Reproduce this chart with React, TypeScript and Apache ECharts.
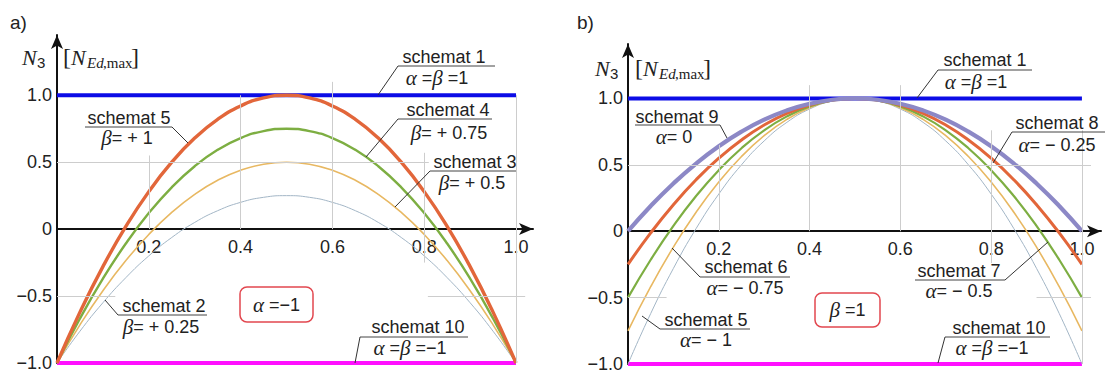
import React, { useEffect, useRef } from "react";
import * as echarts from "echarts";

// ---------- data ----------
const sValues = [0, 0.05, 0.1, 0.15, 0.2, 0.25, 0.3, 0.35, 0.4, 0.45, 0.5, 0.55, 0.6, 0.65, 0.7, 0.75, 0.8, 0.85, 0.9, 0.95, 1];

// panel a) alpha = -1
const schemat5a = [-1, -0.62, -0.28, 0.02, 0.28, 0.5, 0.68, 0.82, 0.92, 0.98, 1.0, 0.98, 0.92, 0.82, 0.68, 0.5, 0.28, 0.02, -0.28, -0.62, -1];
const schemat4a = [-1, -0.6675, -0.37, -0.1075, 0.12, 0.3125, 0.47, 0.5925, 0.68, 0.7325, 0.75, 0.7325, 0.68, 0.5925, 0.47, 0.3125, 0.12, -0.1075, -0.37, -0.6675, -1];
const schemat3a = [-1, -0.715, -0.46, -0.235, -0.04, 0.125, 0.26, 0.365, 0.44, 0.485, 0.5, 0.485, 0.44, 0.365, 0.26, 0.125, -0.04, -0.235, -0.46, -0.715, -1];
const schemat2a = [-1, -0.7625, -0.55, -0.3625, -0.2, -0.0625, 0.05, 0.1375, 0.2, 0.2375, 0.25, 0.2375, 0.2, 0.1375, 0.05, -0.0625, -0.2, -0.3625, -0.55, -0.7625, -1];

// panel b) beta = 1
const schemat9b = [0, 0.19, 0.36, 0.51, 0.64, 0.75, 0.84, 0.91, 0.96, 0.99, 1.0, 0.99, 0.96, 0.91, 0.84, 0.75, 0.64, 0.51, 0.36, 0.19, 0];
const schemat8b = [-0.25, -0.0125, 0.2, 0.3875, 0.55, 0.6875, 0.8, 0.8875, 0.95, 0.9875, 1.0, 0.9875, 0.95, 0.8875, 0.8, 0.6875, 0.55, 0.3875, 0.2, -0.0125, -0.25];
const schemat7b = [-0.5, -0.215, 0.04, 0.265, 0.46, 0.625, 0.76, 0.865, 0.94, 0.985, 1.0, 0.985, 0.94, 0.865, 0.76, 0.625, 0.46, 0.265, 0.04, -0.215, -0.5];
const schemat6b = [-0.75, -0.4175, -0.12, 0.1425, 0.37, 0.5625, 0.72, 0.8425, 0.93, 0.9825, 1.0, 0.9825, 0.93, 0.8425, 0.72, 0.5625, 0.37, 0.1425, -0.12, -0.4175, -0.75];
const schemat5b = [-1, -0.62, -0.28, 0.02, 0.28, 0.5, 0.68, 0.82, 0.92, 0.98, 1.0, 0.98, 0.92, 0.82, 0.68, 0.5, 0.28, 0.02, -0.28, -0.62, -1];

const constEnds = [0, 1];
const schemat1 = [1, 1];
const schemat10 = [-1, -1];

// ---------- layout / styles ----------
const SANS = "Liberation Sans";
const SERIF = "Liberation Serif";
const TXT = "#222";

const YMIN = -1;
const XMAX_A = 1.037;
const YMAX_A = 1.45;
const XMAX_B = 1.042;
const YMAX_B = 1.41;
const GRID_A = { left: 57, top: 35, width: 476, height: 328 };
const GRID_B = { left: 628, top: 44, width: 473, height: 320 };

const gridSegA = [
  [0.2, 0, 0.2, 0.55],
  [0.4, 0, 0.4, 1.0],
  [0.6, 0, 0.6, 1.1],
  [0.8, -0.25, 0.8, 0.57],
  [1.0, -1, 1.0, 1.0],
  [0, 0.5, 0.81, 0.5],
  [0, -0.5, 0.127, -0.5],
  [0.808, -0.5, 1.02, -0.5],
];
const gridSegB = [
  [0.2, 0, 0.2, 0.65],
  [0.4, 0, 0.4, 1.1],
  [0.6, 0, 0.6, 1.1],
  [0.8, -0.24, 0.8, 0.76],
  [1.0, -1, 1.0, 0.76],
  [0, 0.5, 1.02, 0.5],
  [0, -0.5, 0.085, -0.5],
  [0.9, -0.5, 1.02, -0.5],
];

const xFmt = (v: number) => (v < 0.1 || v > 1.001 ? "" : v.toFixed(1));
const yFmt = (v: number) => {
  if (v > 1.001) return "";
  if (Math.abs(v) < 1e-9) return "0";
  return (v < 0 ? "\u2212" : "") + Math.abs(v).toFixed(1);
};

function mkX(gridIndex: number, max: number, gridH: number, ymax: number) {
  // put the axis on the y = 0 level of its grid
  const zeroOffset = -(gridH * (0 - YMIN)) / (ymax - YMIN);
  return {
    type: "value",
    gridIndex,
    min: 0,
    max,
    interval: 0.2,
    position: "bottom",
    offset: zeroOffset,
    axisLine: {
      show: true,
      onZero: false,
      symbol: ["none", "arrow"],
      symbolSize: [9, 14],
      lineStyle: { color: "#111", width: 2 },
    },
    axisTick: { show: false },
    splitLine: { show: false },
    axisLabel: { margin: 9, color: TXT, fontSize: 18, fontFamily: SANS, formatter: xFmt },
  };
}
function mkY(gridIndex: number, max: number) {
  return {
    type: "value",
    gridIndex,
    min: YMIN,
    max,
    interval: 0.5,
    axisLine: {
      show: true,
      onZero: false,
      symbol: ["none", "arrow"],
      symbolSize: [9, 14],
      lineStyle: { color: "#111", width: 2 },
    },
    axisTick: { show: false },
    splitLine: { show: false },
    axisLabel: { margin: 5, color: TXT, fontSize: 18, fontFamily: SANS, formatter: yFmt },
  };
}

function pairs(xs: number[], ys: number[]) {
  return xs.map((x, i) => [x, ys[i]]);
}

function curve(idx: number, ys: number[], color: string, width: number, z = 3, xs = sValues, smooth: boolean = true) {
  return {
    type: "line",
    xAxisIndex: idx,
    yAxisIndex: idx,
    data: pairs(xs, ys),
    smooth,
    symbol: "none",
    silent: true,
    z,
    lineStyle: { color, width },
  };
}

function gridSeries(idx: number, segs: number[][]) {
  return {
    type: "line",
    xAxisIndex: idx,
    yAxisIndex: idx,
    data: [[0, 0]],
    symbol: "none",
    silent: true,
    z: 1,
    lineStyle: { width: 0 },
    markLine: {
      silent: true,
      animation: false,
      symbol: ["none", "none"],
      label: { show: false },
      emphasis: { disabled: true },
      lineStyle: { color: "#cdcdcd", width: 1, type: "solid" },
      data: segs.map((s) => [{ coord: [s[0], s[1]] }, { coord: [s[2], s[3]] }]),
    },
  };
}

const richG = {
  g: { fontFamily: SERIF, fontStyle: "italic", fontSize: 21, fill: TXT },
};

function txt(x: number, y: number, text: string, extra: any = {}) {
  return {
    type: "text",
    x,
    y,
    z: 10,
    silent: true,
    style: {
      text,
      fill: TXT,
      fontFamily: SANS,
      fontSize: 18,
      align: "center",
      verticalAlign: "middle",
      rich: richG,
      ...extra,
    },
  };
}
function seg(x1: number, y1: number, x2: number, y2: number, color = "#333", w = 1) {
  return {
    type: "line",
    z: 10,
    silent: true,
    shape: { x1, y1, x2, y2 },
    style: { stroke: color, lineWidth: w },
  };
}

function ann(
  c1: [number, number],
  c2: [number, number],
  t1: string,
  t2: string,
  uy: number,
  ux1: number,
  ux2: number,
  leader: [number, number, number, number]
) {
  return [
    txt(c1[0], c1[1], t1),
    seg(ux1, uy, ux2, uy, "#444", 1),
    txt(c2[0], c2[1], t2),
    seg(leader[0], leader[1], leader[2], leader[3], "#333", 1),
  ];
}

function yName(xN: number, xB: number, yc: number) {
  return [
    txt(xN, yc, "N", { align: "left", fontFamily: SERIF, fontStyle: "italic", fontSize: 22 }),
    txt(xN + 15, yc + 5, "3", { align: "left", fontSize: 15 }),
    txt(xB, yc, "[", { align: "left", fontFamily: SERIF, fontSize: 24 }),
    txt(xB + 8, yc, "N", { align: "left", fontFamily: SERIF, fontStyle: "italic", fontSize: 22 }),
    txt(xB + 24, yc + 6, "Ed", { align: "left", fontFamily: SERIF, fontStyle: "italic", fontSize: 15 }),
    txt(xB + 40, yc + 6, ",max", { align: "left", fontFamily: SERIF, fontSize: 15 }),
    txt(xB + 68, yc, "]", { align: "left", fontFamily: SERIF, fontSize: 24 }),
  ];
}

function box(x: number, y: number, w: number, h: number, t: string) {
  return [
    {
      type: "rect",
      z: 9,
      silent: true,
      shape: { x, y, width: w, height: h, r: 7 },
      style: { fill: "#fff", stroke: "#e2474f", lineWidth: 1.5 },
    },
    txt(x + w / 2, y + h / 2, t),
  ];
}

const RED = "#e2663a";
const GREEN = "#7dae42";
const YELLOW = "#e8b862";
const GRAY = "#a3b6c6";
const PURPLE = "#8c88c6";
const BLUE = "#0c0ce6";
const MAGENTA = "#ff10ff";

const option: any = {
  animation: false,
  backgroundColor: "#fff",
  grid: [
    { ...GRID_A, outerBoundsMode: "none", containLabel: false },
    { ...GRID_B, outerBoundsMode: "none", containLabel: false },
  ],
  xAxis: [mkX(0, XMAX_A, GRID_A.height, YMAX_A), mkX(1, XMAX_B, GRID_B.height, YMAX_B)],
  yAxis: [mkY(0, YMAX_A), mkY(1, YMAX_B)],
  series: [
    gridSeries(0, gridSegA),
    gridSeries(1, gridSegB),
    curve(0, schemat1, BLUE, 4, 2, constEnds, false),
    curve(0, schemat10, MAGENTA, 4, 2, constEnds, false),
    curve(0, schemat2a, GRAY, 1),
    curve(0, schemat3a, YELLOW, 1.6),
    curve(0, schemat4a, GREEN, 2.4),
    curve(0, schemat5a, RED, 3.4),
    curve(1, schemat1, BLUE, 4, 2, constEnds, false),
    curve(1, schemat10, MAGENTA, 4, 2, constEnds, false),
    curve(1, schemat5b, GRAY, 1),
    curve(1, schemat6b, YELLOW, 1.6),
    curve(1, schemat7b, GREEN, 2.2),
    curve(1, schemat8b, RED, 3),
    curve(1, schemat9b, PURPLE, 4.2),
  ],
  graphic: [
    txt(10, 22, "a)", { align: "left", fontSize: 19 }),
    txt(577, 22, "b)", { align: "left", fontSize: 19 }),
    ...yName(22, 63, 57),
    ...yName(595, 635, 68),
    // panel a annotations
    ...ann([444, 57], [437, 78], "schemat 1", "{g|\u03b1} ={g|\u03b2} =1", 66, 398, 495, [398, 66, 378, 95]),
    ...ann([448, 110], [449, 133], "schemat 4", "{g|\u03b2}= + 0.75", 119, 398, 492, [398, 119, 366, 157]),
    ...ann([475, 162], [472, 183], "schemat 3", "{g|\u03b2}= + 0.5", 171, 430, 516, [430, 171, 395, 207]),
    ...ann([129, 118], [127, 138], "schemat 5", "{g|\u03b2}= + 1", 127, 85, 172, [172, 127, 188, 143]),
    ...ann([164, 306], [161, 327], "schemat 2", "{g|\u03b2}= + 0.25", 315, 118, 207, [118, 315, 105, 300]),
    ...ann([418, 327], [410, 348], "schemat 10", "{g|\u03b1} ={g|\u03b2} =\u22121", 337, 360, 468, [360, 337, 355, 363]),
    ...box(240, 287, 73, 35, "{g|\u03b1} =\u22121"),
    // panel b annotations
    ...ann([985, 60], [976, 82], "schemat 1", "{g|\u03b1} ={g|\u03b2} =1", 70, 938, 1032, [938, 70, 917, 98]),
    ...ann([1057, 123], [1057, 145], "schemat 8", "{g|\u03b1}= \u2212 0.25", 132, 1012, 1105, [1012, 132, 993, 163]),
    ...ann([677, 117], [674, 137], "schemat 9", "{g|\u03b1}= 0", 125, 635, 720, [720, 125, 727, 138]),
    ...ann([746, 267], [745, 288], "schemat 6", "{g|\u03b1}= \u2212 0.75", 277, 700, 790, [700, 277, 672, 248]),
    ...ann([706, 320], [706, 340], "schemat 5", "{g|\u03b1}= \u2212 1", 329, 660, 750, [660, 329, 642, 316]),
    ...ann([959, 271], [959, 291], "schemat 7", "{g|\u03b1}= \u2212 0.5", 280, 915, 1005, [1005, 280, 1048, 242]),
    ...ann([999, 328], [992, 348], "schemat 10", "{g|\u03b1} ={g|\u03b2} =\u22121", 337, 945, 1050, [945, 337, 938, 363]),
    ...box(815, 293, 65, 34, "{g|\u03b2} =1"),
  ],
};

export default function App() {
  const ref = useRef<HTMLDivElement>(null);
  useEffect(() => {
    const chart = echarts.init(ref.current!, null, { renderer: "svg" });
    chart.setOption(option);
    return () => chart.dispose();
  }, []);
  return (
    <div
      ref={ref}
      style={{ position: "absolute", left: 0, top: 0, width: 1110, height: 374, background: "#fff" }}
    />
  );
}
